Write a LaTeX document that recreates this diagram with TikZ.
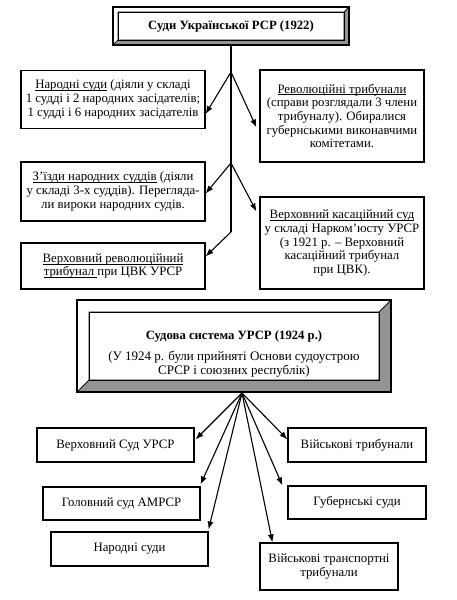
\documentclass[tikz,border=0pt]{standalone}
\usepackage{fontspec}
\setmainfont{Liberation Serif}
\usetikzlibrary{arrows.meta,calc}
\newcommand{\myul}[1]{\setbox0\hbox{#1}\rlap{\rule[-2pt]{\wd0}{0.6pt}}\box0\relax}
\tikzset{
  box/.style={draw,line width=1.1pt,fill=white,inner sep=1pt,align=center,
    font=\fontsize{12.8}{13.7}\selectfont},
  arr/.style={line width=1.1pt,-{Latex[length=8pt,width=6pt]}},
  trunk/.style={line width=1.1pt},
  bevdark/.style={fill=black!42,draw=black,line width=0.7pt},
  bevlight/.style={fill=white,draw=black,line width=0.7pt},
  bevframe/.style={draw=black,line width=1.1pt},
  titlefont/.style={font=\fontsize{12.7}{14}\selectfont\bfseries},
}
\begin{document}
\begin{tikzpicture}[x=1pt,y=-1pt]
\useasboundingbox (0,0) rectangle (457,600);
\fill[white] (0,0) rectangle (457,600);

% ---------- top bevel box ----------
\coordinate (t1o) at (113,7);  \coordinate (t2o) at (349,45);
\coordinate (t1i) at (118,12); \coordinate (t2i) at (344,40);
\draw[bevlight] (113,7) -- (349,7) -- (344,12) -- (118,12) -- (118,40) -- (113,45) -- cycle;
\draw[bevdark] (349,7) -- (349,45) -- (113,45) -- (118,40) -- (344,40) -- (344,12) -- cycle;
\draw[bevframe] (t1o) rectangle (t2o);
\draw[line width=0.7pt] (t1i) rectangle (t2i);
\node[titlefont,inner sep=0] (top) at (231,26) {Суди Української РСР (1922)};
\coordinate (topb) at (231,45);

% ---------- upper boxes ----------
\node[box,minimum width=184,minimum height=58] (n1) at (113,99.5)
  {\myul{Народні суди} (діяли у складі\\1 судді і 2 народних засідателів;\\1 судді і 6 народних засідателів};
\node[box,minimum width=164,minimum height=92] (n2) at (342,116)
  {\myul{Революційні трибунали}\\(справи розглядали 3 члени\\трибуналу). Обиралися\\губернськими виконавчими\\комітетами.};
\node[box,minimum width=184,minimum height=59] (n3) at (113,191.5)
  {\myul{З’їзди народних суддів} (діяли\\у складі 3-х суддів). Перегляда-\\ли вироки народних судів.};
\node[box,minimum width=164,minimum height=92] (n4) at (342,243)
  {\myul{Верховний касаційний суд}\\у складі Нарком’юсту УРСР\\(з 1921 р. – Верховний\\касаційний трибунал\\при ЦВК).};
\node[box,minimum width=184,minimum height=46] (n5) at (113,266)
  {\myul{Верховний революційний}\\\myul{трибунал }при ЦВК УРСР};

% trunk and branches
\coordinate (j1) at (231,72);
\coordinate (j2) at (231,163);
\coordinate (j3) at (231,232);
\draw[trunk] (topb) -- (j3);
\draw[arr] (j1) -- ($(n1.south east)+(0,-15)$);
\draw[arr] (j1) -- ($(n2.north west)+(-3,58)$);
\draw[arr] (j2) -- ($(n3.south east)+(0,-28)$);
\draw[arr] (j2) -- ($(n4.north west)+(-3,15)$);
\draw[arr] (j3) -- ($(n5.north east)+(0,14)$);

% ---------- second bevel box ----------
\draw[bevlight] (77,300) -- (391,300) -- (379,312) -- (89,312) -- (89,380) -- (77,392) -- cycle;
\draw[bevdark] (391,300) -- (391,392) -- (77,392) -- (89,380) -- (379,380) -- (379,312) -- cycle;
\draw[bevframe] (77,300) rectangle (391,392);
\draw[line width=0.7pt] (89,312) rectangle (379,380);
\node[titlefont,inner sep=0] (sys) at (234,336) {Судова система УРСР (1924 р.)};
\node[inner sep=0,align=center,font=\fontsize{13}{13.7}\selectfont] (sysb) at (234,364)
  {(У 1924 р. були прийняті Основи судоустрою\\СРСР і союзних республік)};
\coordinate (fan) at (242,393);

% ---------- lower boxes ----------
\node[box,minimum width=157,minimum height=34] (b1) at (115.5,445) {Верховний Суд УРСР};
\node[box,minimum width=138,minimum height=34] (b2) at (357,445) {Військові трибунали};
\node[box,minimum width=157,minimum height=33] (b3) at (121.5,503.5) {Головний суд АМРСР};
\node[box,minimum width=138,minimum height=33] (b4) at (357,502.5) {Губернські суди};
\node[box,minimum width=157,minimum height=34] (b5) at (129.5,549) {Народні суди};
\node[box,minimum width=138,minimum height=47] (b6) at (329,566.5) {Військові транспортні\\трибунали};

\draw[arr] (fan) -- ($(b1.north east)+(1,12)$);
\draw[arr] (fan) -- ($(b2.north west)+(0,12)$);
\draw[arr] (fan) -- ($(b3.north east)+(0,-2)$);
\draw[arr] (fan) -- ($(b4.north west)+(-5,0)$);
\draw[arr] (fan) -- ($(b5.north east)+(0,-2)$);
\draw[arr] (fan) -- ($(b6.north west)+(13,0)$);
\end{tikzpicture}
\end{document}
